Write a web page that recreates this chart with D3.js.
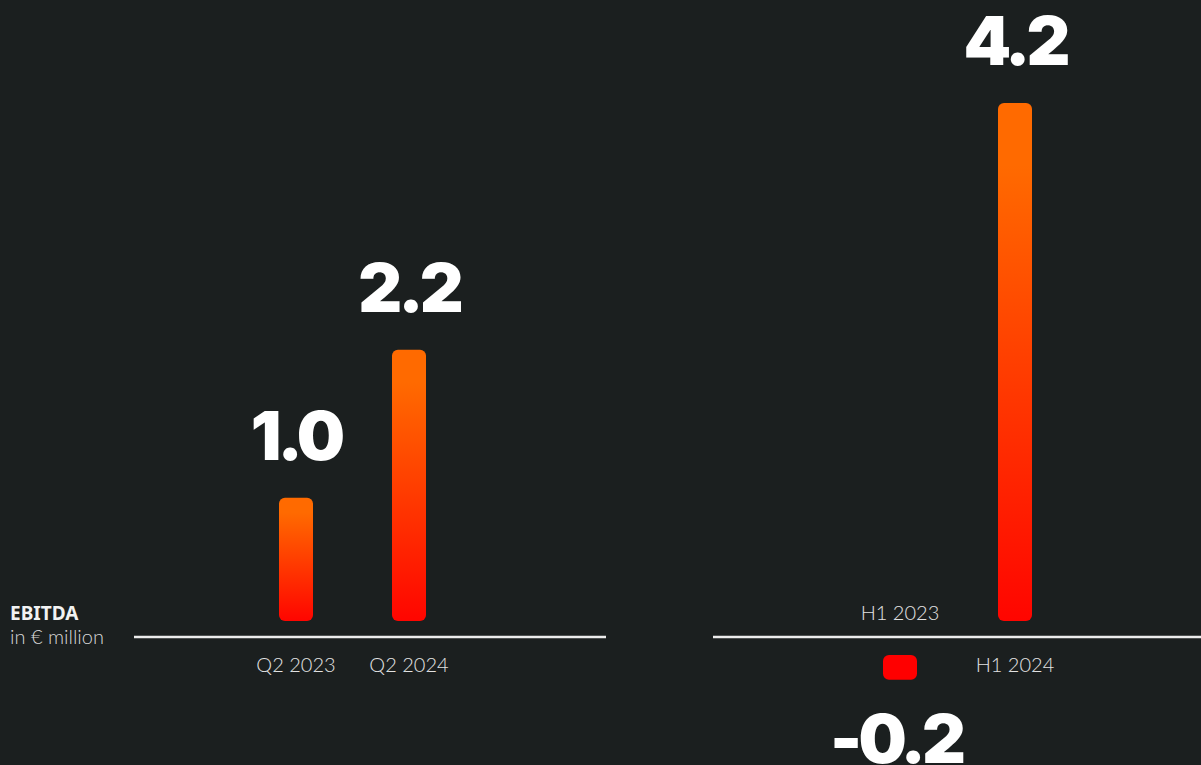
<!DOCTYPE html>
<html>
<head>
<meta charset="utf-8">
<script src="https://cdn.jsdelivr.net/npm/d3@7"></script>
<style>
  html, body { margin: 0; padding: 0; background: #1b1f1f; }
  svg { display: block; }
</style>
</head>
<body>
<div id="chart"></div>
<script>
// Data
const quarterLabels = ["Q2 2023", "Q2 2024"];
const quarterValues = [1.0, 2.2];
const halfLabels = ["H1 2023", "H1 2024"];
const halfValues = [-0.2, 4.2];

const width = 1201, height = 765;
const axisY = 637;
const gap = 16;          // space between axis and bar
const barW = 34;

const svg = d3.select("#chart").append("svg")
    .attr("width", width)
    .attr("height", height);

svg.append("rect")
    .attr("width", width)
    .attr("height", height)
    .attr("fill", "#1b1f1f");

// Gradient for positive bars
const defs = svg.append("defs");
const grad = defs.append("linearGradient")
    .attr("id", "barGrad")
    .attr("x1", 0).attr("y1", 0)
    .attr("x2", 0).attr("y2", 1);
grad.append("stop").attr("offset", "0.12").attr("stop-color", "#ff6a00");
grad.append("stop").attr("offset", "1").attr("stop-color", "#ff0500");

// Bar length scale (px per unit)
const len = d3.scaleLinear().domain([0, 4.2]).range([0, 518]);

// plain hyphen for negatives, like the original
const fmt = v => d3.format(".1f")(v).replace("\u2212", "-");

function drawPanel(labels, values, xRange, lineRange) {
    const x = d3.scalePoint().domain(labels).range(xRange);
    const data = labels.map((l, i) => ({label: l, value: values[i]}));
    const g = svg.append("g");

    // axis line
    g.append("line")
        .attr("x1", lineRange[0]).attr("x2", lineRange[1])
        .attr("y1", axisY).attr("y2", axisY)
        .attr("stroke", "#ececec")
        .attr("stroke-width", 2.5);

    // bars
    g.selectAll("rect.bar")
        .data(data)
        .join("rect")
        .attr("class", "bar")
        .attr("x", d => x(d.label) - barW / 2)
        .attr("y", d => d.value >= 0 ? axisY - gap - len(d.value) : axisY + gap + 2)
        .attr("width", barW)
        .attr("height", d => len(Math.abs(d.value)))
        .attr("rx", 6)
        .attr("fill", d => d.value >= 0 ? "url(#barGrad)" : "#ff0000");

    // value labels
    g.selectAll("text.val")
        .data(data)
        .join("text")
        .attr("class", "val")
        .attr("x", d => x(d.label) - (d.value >= 0 ? 0 : 4))
        .attr("y", d => d.value >= 0
            ? axisY - gap - len(d.value) - 38
            : axisY + gap + 2 + len(-d.value) + 83)
        .attr("text-anchor", "middle")
        .attr("fill", "#ffffff")
        .style("font-family", "Inter, 'Noto Sans', sans-serif")
        .style("font-weight", 900)
        .style("font-size", "68px")
        .style("letter-spacing", "-4px")
        .text(d => fmt(d.value));

    // category labels: below axis for positives, above axis for negatives
    g.selectAll("text.cat")
        .data(data)
        .join("text")
        .attr("class", "cat")
        .attr("x", d => x(d.label))
        .attr("y", d => d.value >= 0 ? axisY + 35 : axisY - 17)
        .attr("text-anchor", "middle")
        .attr("fill", "#e2e2e2")
        .style("font-family", "Lato, 'Noto Sans', sans-serif")
        .style("font-weight", 300)
        .style("font-size", "20px")
        .text(d => d.label);
}

drawPanel(quarterLabels, quarterValues, [296, 409], [134, 606]);
drawPanel(halfLabels, halfValues, [900, 1015], [713, 1201]);

// Axis title
svg.append("text")
    .attr("x", 10).attr("y", 620)
    .attr("fill", "#f2f2f2")
    .style("font-family", "'Noto Sans', sans-serif")
    .style("font-weight", 700)
    .style("font-size", "19px")
    .text("EBITDA");
svg.append("text")
    .attr("x", 10).attr("y", 644)
    .attr("fill", "#d8d8d8")
    .style("font-family", "Lato, 'Noto Sans', sans-serif")
    .style("font-weight", 300)
    .style("font-size", "20px")
    .text("in € million");
</script>
</body>
</html>
